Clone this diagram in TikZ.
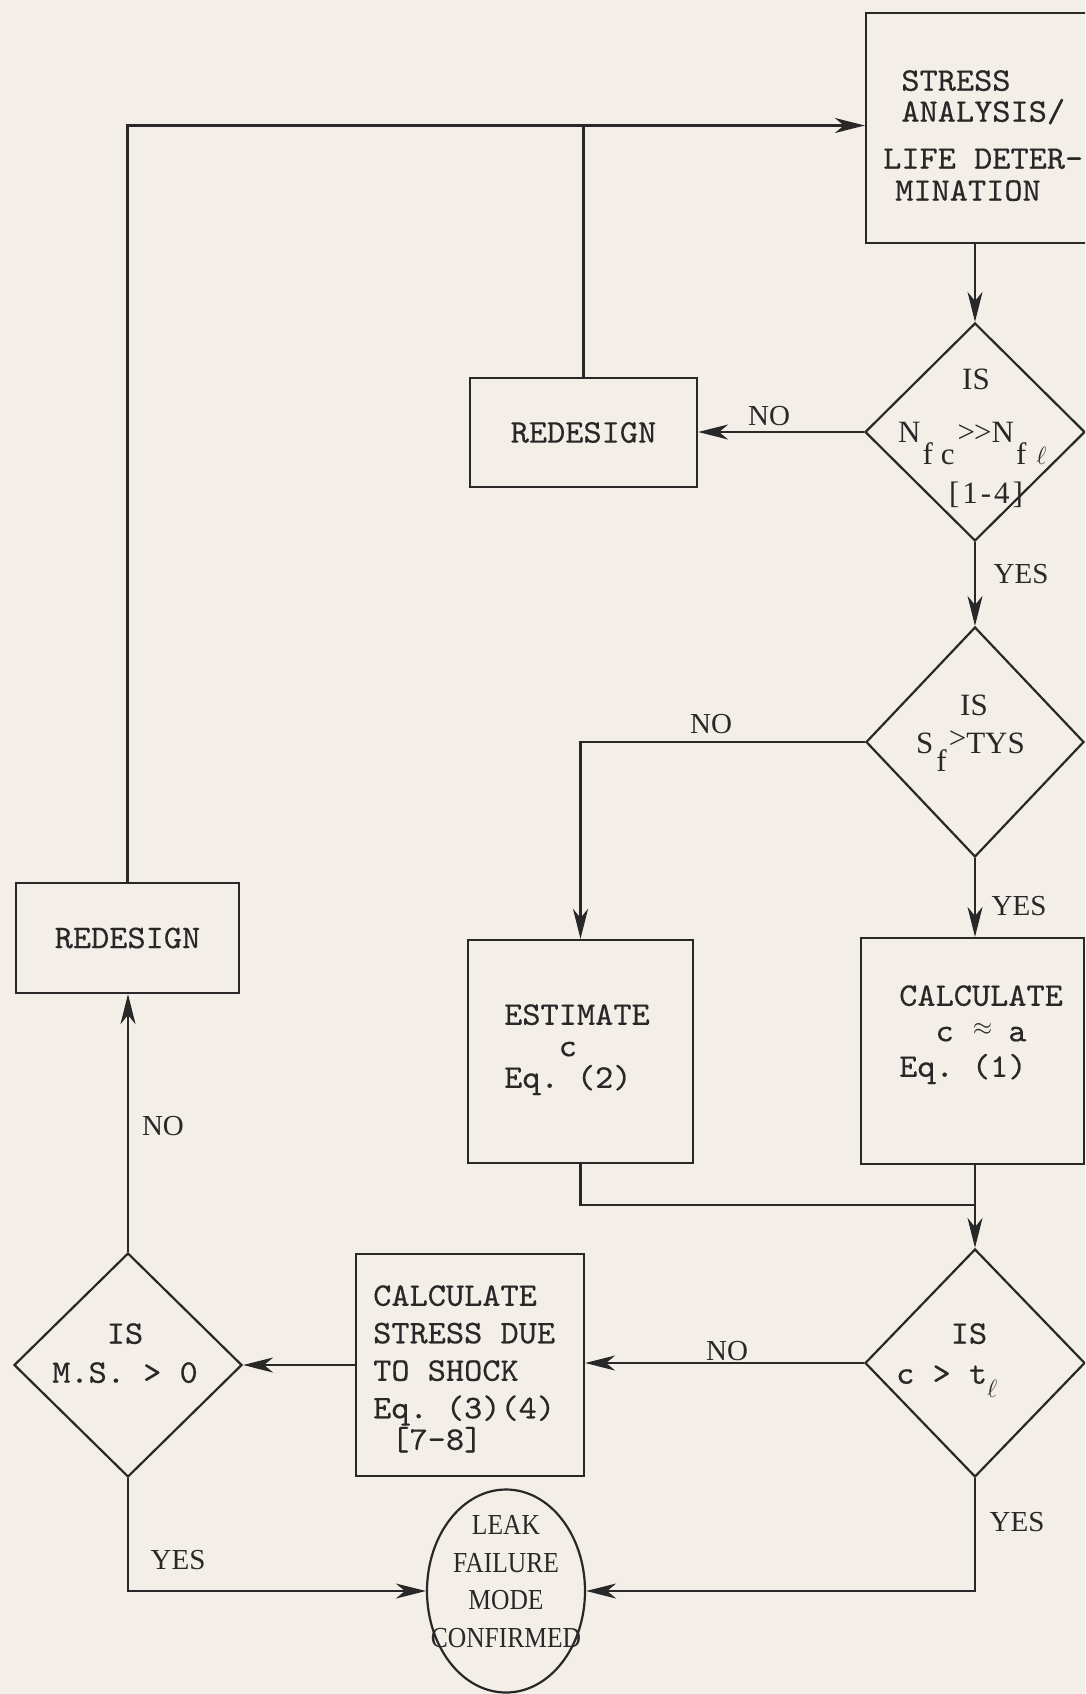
\documentclass[tikz,border=0pt]{standalone}
\usepackage{fontspec}
\usetikzlibrary{shapes.geometric,arrows.meta}
\newfontfamily\tw{lmmono10-regular.otf}[FakeStretch=1.05,FakeBold=0.4]
\newfontfamily\pf{Liberation Serif}
\newfontfamily\pfc{Liberation Serif}[FakeStretch=0.88]
\newcommand\tsp{\hphantom{x}}
\definecolor{bg}{RGB}{243,239,232}
\definecolor{ink}{RGB}{40,40,40}
\begin{document}
\begin{tikzpicture}[x=1pt,y=-1pt,
  box/.style={draw=ink,line width=2.2pt,rectangle,inner sep=0pt},
  dia/.style={draw=ink,line width=2.2pt,diamond,inner sep=0pt},
  oval/.style={draw=ink,line width=2.2pt,ellipse,inner sep=0pt},
  tt/.style={text=ink,inner sep=0pt,font=\tw\fontsize{33}{36}\selectfont},
  rm/.style={text=ink,inner sep=0pt,font=\pf\fontsize{29}{33}\selectfont},
  dt/.style={rm,font=\pf\fontsize{31}{31}\selectfont},
  conn/.style={draw=ink,line width=2.2pt},
  arr/.style={conn,-{Stealth[length=30pt,width=15pt,inset=9pt]}}]
\useasboundingbox (0,0) rectangle (1085,1694);
\fill[bg] (0,0) rectangle (1085,1694);
\clip (0,0) rectangle (1085,1694);

% nodes
\node[box,minimum width=234pt,minimum height=230pt] (sa) at (983,128) {};
\node[tt,anchor=north west,align=left,font=\tw\fontsize{33}{39}\selectfont] (saT) at (883,70)
  {\tsp STRESS\\[-8pt]\tsp ANALYSIS/\\[8pt]LIFE\tsp DETER-\\[-7pt]\hspace*{12pt}MINATION};

\node[dia,minimum width=220pt,minimum height=218pt] (d1) at (975,432) {};
\node[dt] (d1a) at (976,379) {IS};
\node[dt,anchor=base west] (d1b) at (898,442)
  {N\kern2pt\raisebox{-22pt}{f\kern8pt c}\kern3pt>\kern-1pt>N\kern2pt\raisebox{-22pt}{f\kern10pt$\ell$}};
\node[dt] (d1c) at (986,495) {[\kern3pt1\kern3pt-\kern3pt4\kern3pt]};

\node[box,tt,minimum width=227pt,minimum height=109pt] (rd1) at (583.5,432.5) {REDESIGN};

\node[dia,minimum width=218pt,minimum height=230pt] (d2) at (975,742) {};
\node[dt] (d2a) at (974,705) {IS};
\node[dt,anchor=base west] (d2b) at (916,753)
  {S\kern3pt\raisebox{-18pt}{f}\kern2pt\raisebox{5pt}{>}TYS};

\node[box,minimum width=225pt,minimum height=223pt] (est) at (580.5,1051.5) {};
\node[tt,anchor=north west,align=left,font=\tw\fontsize{33}{31.5}\selectfont] (estT) at (504,1004)
  {ESTIMATE\\\tsp\tsp\tsp c\\Eq.\tsp(2)};

\node[box,minimum width=223pt,minimum height=226pt] (calc) at (972.5,1051) {};
\node[tt,anchor=north west,align=left,font=\tw\fontsize{33}{35.5}\selectfont] (calcT) at (899,985)
  {CALCULATE\\\tsp\tsp c\tsp\rlap{\kern1pt\raisebox{6pt}{$\scriptstyle\approx$}}\tsp\tsp a\\Eq.\tsp(1)};

\node[dia,minimum width=220pt,minimum height=228pt] (d3) at (975,1363) {};
\node[tt,anchor=north west,align=left,font=\tw\fontsize{33}{40}\selectfont] (d3T) at (896,1323)
  {\tsp\tsp\tsp IS\\c\tsp>\tsp t\raisebox{-14pt}{\fontsize{23}{23}\selectfont$\ell$}};

\node[box,minimum width=228pt,minimum height=222pt] (shock) at (470,1365) {};
\node[tt,anchor=north west,align=left,font=\tw\fontsize{33}{37.5}\selectfont] (shockT) at (373,1285)
  {CALCULATE\\STRESS\tsp DUE\\TO\tsp SHOCK\\Eq.\tsp(3)(4)\\[-6pt]\tsp[7-8]};

\node[dia,minimum width=228pt,minimum height=224pt] (d4) at (128,1365) {};
\node[tt,anchor=north,align=center,font=\tw\fontsize{33}{39}\selectfont] (d4T) at (125,1323)
  {IS\\M.S.\tsp>\tsp0};

\node[box,tt,minimum width=223pt,minimum height=110pt] (rd2) at (127.5,938) {REDESIGN};

\node[oval,minimum width=158pt,minimum height=203pt] (leak) at (506,1591) {};
\node[rm,align=center,font=\pfc\fontsize{29}{37.7}\selectfont] (leakT) at (506,1581.5)
  {LEAK\\FAILURE\\MODE\\CONFIRMED};

% labels
\node[rm] (lno1) at (769,416) {NO};
\node[rm] (lyes1) at (1021,574) {YES};
\node[rm] (lno2) at (711,724) {NO};
\node[rm] (lyes2) at (1019,906) {YES};
\node[rm] (lno3) at (727,1351) {NO};
\node[rm] (lno4) at (163,1126) {NO};
\node[rm] (lyes4) at (178,1560) {YES};
\node[rm] (lyes3) at (1017,1522) {YES};

% connectors
\coordinate (topL) at (130,125.5);
\coordinate (jn) at (975,1205);
\draw[arr] (d1.north |- sa.south) -- (d1.north);
\draw[arr] (d1.west) -- (d1.west -| rd1.east);
\draw[conn] (rd1.north) -- (rd1.north |- topL);
\draw[arr] (rd2.north) -- (rd2.north |- topL) -- (topL -| sa.west);
\draw[arr] (d1.south) -- (d2.north);
\draw[arr] (d2.west) -| (est.north);
\draw[arr] (d2.south) -- (d2.south |- calc.north);
\draw[conn] (est.south) |- (jn);
\draw[arr] (d3.north |- calc.south) -- (d3.north);
\draw[arr] (d3.west) -- (d3.west -| shock.east);
\draw[arr] (shock.west) -- (shock.west -| d4.east);
\draw[arr] (d4.north) -- (d4.north |- rd2.south);
\draw[arr] (d4.south) |- (leak.west);
\draw[arr] (d3.south) |- (leak.east);
\end{tikzpicture}
\end{document}
